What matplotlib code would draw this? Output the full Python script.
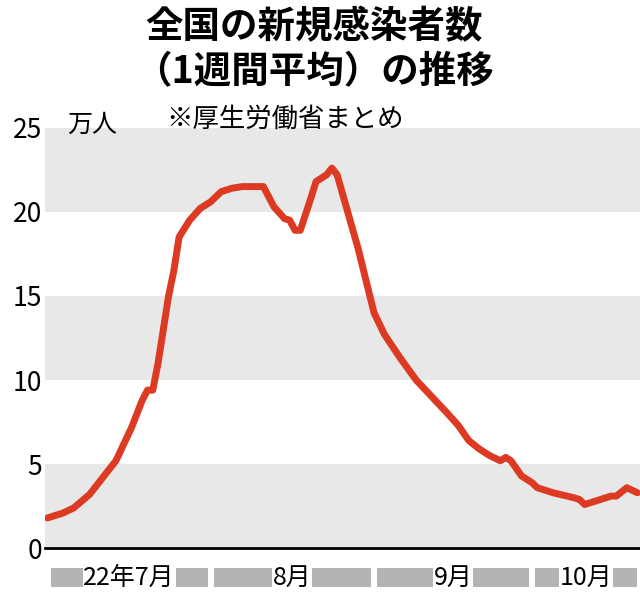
import matplotlib.pyplot as plt

plt.rcParams['font.family'] = ['Noto Sans CJK JP', 'DejaVu Sans']

# days since 2022-07-01, and weekly-average new cases (10k people)
days = [0, 3, 5, 8, 10, 13, 16, 18, 19, 20, 21, 23, 24, 25, 27, 29, 31, 33, 35, 37, 39, 41,
        43, 45, 46, 47, 48, 50, 51, 53, 54, 55, 57, 59, 62, 64, 67, 70, 73, 76, 78, 80, 82, 84,
        86, 87, 88, 90, 92, 93, 96, 100, 101, 102, 104, 107, 108, 110, 112]
cases = [1.8, 2.1, 2.4, 3.2, 4.0, 5.2, 7.2, 8.8, 9.4, 9.4, 11.0, 15.0, 16.5, 18.5, 19.5, 20.2,
         20.6, 21.2, 21.4, 21.5, 21.5, 21.5, 20.3, 19.6, 19.5, 18.9, 18.9, 20.8, 21.8, 22.2,
         22.6, 22.2, 20.0, 17.8, 14.0, 12.7, 11.3, 10.0, 9.0, 8.0, 7.3, 6.4, 5.9, 5.5, 5.2,
         5.4, 5.2, 4.3, 3.9, 3.6, 3.3, 3.0, 2.9, 2.6, 2.8, 3.1, 3.1, 3.6, 3.3]
month_starts = [0, 31, 62, 92]
month_labels = ['22年7月', '8月', '9月', '10月']
end_day = 112.5

fig = plt.figure(figsize=(6.4, 5.94), dpi=100)
ax = fig.add_axes([0.07, 0.077, 0.93, 0.708])

for lo in (0, 10, 20):
    ax.axhspan(lo, lo + 5, color='#e8e8e8', lw=0, zorder=0)
ax.plot(days, cases, color='#dc3a22', lw=5, solid_capstyle='round', zorder=3)

ax.set_xlim(-0.5, end_day)
ax.set_ylim(0, 25)
ax.set_yticks([0, 5, 10, 15, 20, 25])
ax.set_yticklabels(['0', '5', '10', '15', '20', '25'], fontsize=19)
ax.tick_params(axis='y', length=0, pad=2)
ax.set_xticks([])
for s in ['top', 'right', 'left']:
    ax.spines[s].set_visible(False)
ax.spines['bottom'].set_linewidth(2)

# month bars below axis
bounds = month_starts + [end_day]
for i, lab in enumerate(month_labels):
    a, b = bounds[i] + 0.6, bounds[i + 1] - 0.6
    ax.add_patch(plt.Rectangle((a, -2.3), b - a, 1.15, color='#b4b4b4', lw=0,
                               clip_on=False, transform=ax.transData))
    ax.text((a + b) / 2, -1.75, lab, ha='center', va='center', fontsize=18,
            bbox=dict(fc='white', ec='none', pad=0.5), clip_on=False)

fig.text(0.105, 0.79, '万人', fontsize=18, va='center')
fig.text(0.49, 0.955, '全国の新規感染者数', ha='center', va='center', fontsize=27, fontweight='bold')
fig.text(0.49, 0.88, '（1週間平均）の推移', ha='center', va='center', fontsize=27, fontweight='bold')
fig.text(0.26, 0.8, '※厚生労働省まとめ', fontsize=19, va='center')

fig.savefig('out.png', dpi=100)
